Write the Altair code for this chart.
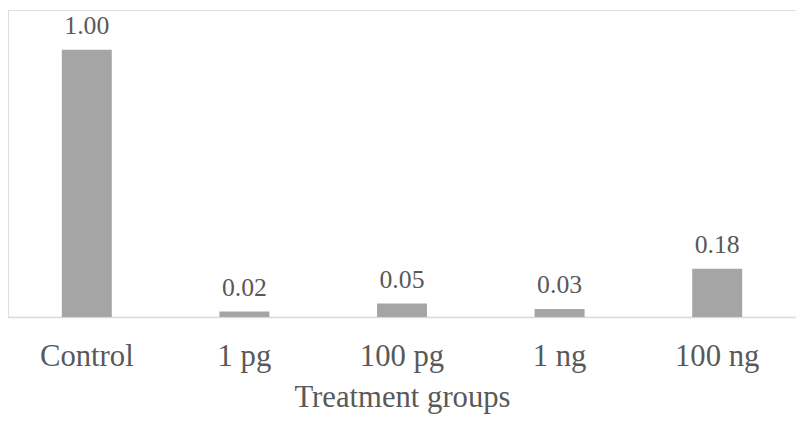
import altair as alt
import pandas as pd

groups = ["Control", "1 pg", "100 pg", "1 ng", "100 ng"]
values = [1.00, 0.02, 0.05, 0.03, 0.18]

df = pd.DataFrame({"group": groups, "value": values})

FONT = "Liberation Serif, Times New Roman, serif"

x = alt.X(
    "group:N",
    sort=groups,
    scale=alt.Scale(paddingInner=0.683, paddingOuter=0.3415),
    axis=alt.Axis(
        title="Treatment groups",
        labelAngle=0,
        ticks=False,
        labelPadding=49,
        labelBaseline="alphabetic",
        labelFont=FONT,
        labelFontSize=31,
        labelColor="#595959",
        titleFont=FONT,
        titleFontSize=31,
        titleFontWeight="normal",
        titleColor="#595959",
        titleBaseline="alphabetic",
        titleY=90,
        domainColor="#D9D9D9",
        domainWidth=1.5,
        grid=False,
    ),
)
y = alt.Y(
    "value:Q",
    scale=alt.Scale(domain=[0, 310 / 270], nice=False),
    axis=None,
)

bars = alt.Chart(df).mark_bar(color="#A5A5A5").encode(x=x, y=y)
labels = alt.Chart(df).mark_text(
    font=FONT, fontSize=26, color="#595959", baseline="alphabetic", dy=-16
).encode(x=x, y=y, text=alt.Text("value:Q", format=".2f"))

chart = (
    (bars + labels)
    .properties(width=796, height=310, padding=0)
    .configure_view(strokeWidth=0, stroke="transparent")
    .configure(background="white")
)

chart.save("out.html", embed_options={"renderer": "svg", "actions": False})
